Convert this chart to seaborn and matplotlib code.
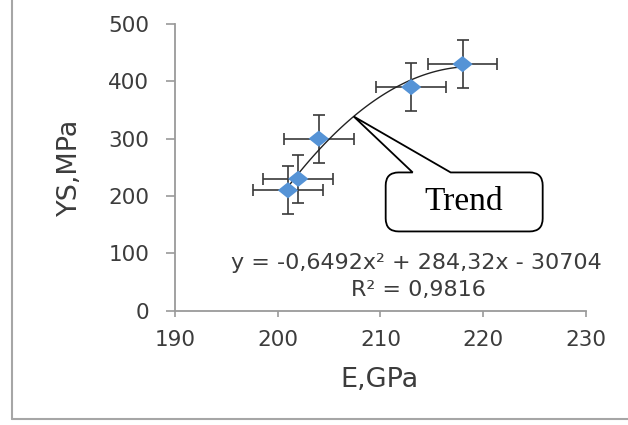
import numpy as np
import pandas as pd
import matplotlib
matplotlib.use("Agg")
import matplotlib.pyplot as plt
import matplotlib.transforms as mtransforms
from matplotlib.path import Path
from matplotlib.patches import PathPatch
from matplotlib.lines import Line2D
import seaborn as sns

# data
e_gpa = [201, 202, 204, 213, 218]
ys_mpa = [210, 230, 300, 390, 430]
e_err = [3.4, 3.4, 3.4, 3.4, 3.4]
ys_err = [42, 42, 42, 42, 42]
# polynomial trend shown on the chart
trend_coef = [-0.6492, 284.32, -30704]
eq_text = "y = -0,6492x\u00b2 + 284,32x - 30704"
r2_text = "R\u00b2 = 0,9816"

x_ticks = [190, 200, 210, 220, 230]
y_ticks = [0, 100, 200, 300, 400, 500]

df = pd.DataFrame({"E": e_gpa, "YS": ys_mpa})
xs = np.linspace(min(e_gpa), max(e_gpa), 100)
trend = pd.DataFrame({"E": xs, "YS": np.polyval(trend_coef, xs)})

sns.set_style("white")
plt.rcParams["font.family"] = ["DejaVu Sans"]

fig = plt.figure(figsize=(6.28, 4.25), dpi=100)
ax = fig.add_axes([0.2787, 0.269, 0.654, 0.6745])

txt_col = "#3c3c3c"
blue = "#5593D6"

ax.errorbar(e_gpa, ys_mpa, xerr=e_err, yerr=ys_err, fmt="none",
            ecolor="#3a3a3a", elinewidth=1.2, capsize=4.5, capthick=1.2, zorder=2)
sns.lineplot(data=trend, x="E", y="YS", ax=ax, color="#222222", linewidth=1.0, zorder=3)
diamond = [(-1, 0), (0, 0.8), (1, 0), (0, -0.8), (-1, 0)]
sns.scatterplot(data=df, x="E", y="YS", ax=ax, marker=diamond, s=215,
                color=blue, edgecolor="none", linewidth=0, zorder=4)

ax.set_xlim(190, 230)
ax.set_ylim(0, 500)
ax.set_xticks(x_ticks)
ax.set_yticks(y_ticks)
ax.tick_params(axis="y", direction="out", length=6.5, width=1.2, color="#9a9a9a",
               labelsize=15.5, labelcolor=txt_col, pad=12, left=True)
ax.tick_params(axis="x", direction="out", length=4, width=1.2, color="#9a9a9a",
               labelsize=15.5, labelcolor=txt_col, pad=10, bottom=True)
for side in ["top", "right"]:
    ax.spines[side].set_visible(False)
for side in ["left", "bottom"]:
    ax.spines[side].set_color("#9a9a9a")
    ax.spines[side].set_linewidth(1.3)

ax.set_xlabel("E,GPa", fontsize=19.5, color=txt_col)
ax.set_ylabel("YS,MPa", fontsize=19.5, color=txt_col)
ax.xaxis.set_label_coords(0.499, -0.242)
ax.yaxis.set_label_coords(-0.256, 0.5)
ax.xaxis.label.set_va("center")
ax.yaxis.label.set_va("center")

# trend equation
ax.text(213.5, 83, eq_text, ha="center", va="center", fontsize=16, color=txt_col)
ax.text(213.7, 36, r2_text, ha="center", va="center", fontsize=16, color=txt_col)

# callout "Trend" pointing at the curve, shape in pixels relative to the tip
tip_x = 207.4
tip = ax.transData.transform((tip_x, np.polyval(trend_coef, tip_x)))
L, R, T, B, r = 32, 189, -56, -115, 13
w1, w2 = 59, 97
verts = [(w1, T), (0, 0), (w2, T), (R - r, T), (R, T), (R, T - r), (R, B + r), (R, B),
         (R - r, B), (L + r, B), (L, B), (L, B + r), (L, T - r), (L, T), (L + r, T),
         (w1, T)]
codes = [Path.MOVETO, Path.LINETO, Path.LINETO, Path.LINETO, Path.CURVE3, Path.CURVE3,
         Path.LINETO, Path.CURVE3, Path.CURVE3, Path.LINETO, Path.CURVE3, Path.CURVE3,
         Path.LINETO, Path.CURVE3, Path.CURVE3, Path.CLOSEPOLY]
px = mtransforms.Affine2D().translate(tip[0], tip[1])
ax.add_patch(PathPatch(Path(verts, codes), transform=px, facecolor="white",
                       edgecolor="black", linewidth=1.3, zorder=5, clip_on=False))
ax.text((L + R) / 2, (T + B) / 2, "Trend", transform=px, ha="center", va="center",
        fontsize=24, family="Liberation Serif", color="black", zorder=6)

# outer chart frame
fig.add_artist(Line2D([0.019, 0.019], [0.014, 1.0], color="#a6a6a6", lw=1.5))
fig.add_artist(Line2D([0.019, 1.0], [0.014, 0.014], color="#a6a6a6", lw=1.5))

fig.savefig("out.png", dpi=100)
